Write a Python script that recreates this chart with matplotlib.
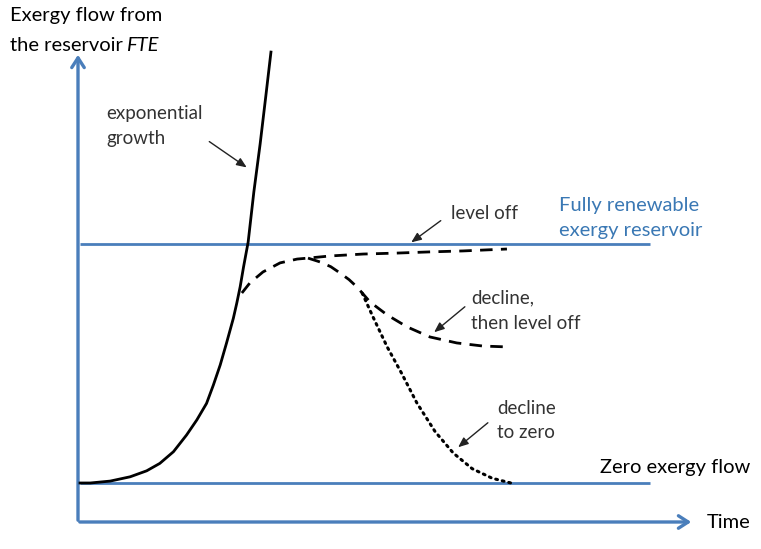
import matplotlib
matplotlib.use("Agg")
import matplotlib.pyplot as plt

# ---- data (time in arbitrary units, exergy flow normalised: 0 = zero flow, 1 = fully renewable) ----
exp_t = [0, 0.18, 0.53, 0.88, 1.17, 1.40, 1.64, 1.87, 2.05, 2.22, 2.34, 2.46, 2.57,
         2.69, 2.75, 2.81, 2.87, 2.95, 3.05, 3.16, 3.26, 3.35]
exp_e = [0, 0.0, 0.008, 0.026, 0.051, 0.082, 0.131, 0.201, 0.264, 0.333, 0.410, 0.494,
         0.585, 0.689, 0.752, 0.821, 0.905, 1.008, 1.218, 1.418, 1.619, 1.803]

rise_t = [2.84, 2.98, 3.21, 3.51, 3.81, 4.00]
rise_e = [0.795, 0.837, 0.883, 0.921, 0.937, 0.941]

level_t = [4.00, 4.39, 4.97, 5.56, 6.14, 6.72, 7.49]
level_e = [0.941, 0.950, 0.958, 0.962, 0.967, 0.971, 0.979]

decl_t = [4.00, 4.21, 4.40, 4.56, 4.72, 4.86, 5.09, 5.39, 5.74, 6.14, 6.61, 7.07, 7.54]
decl_e = [0.941, 0.925, 0.905, 0.879, 0.851, 0.820, 0.757, 0.703, 0.653, 0.611, 0.586, 0.573, 0.569]

zero_t = [4.95, 5.14, 5.39, 5.64, 5.91, 6.23, 6.55, 6.88, 7.23, 7.56]
zero_e = [0.795, 0.695, 0.569, 0.460, 0.335, 0.215, 0.125, 0.060, 0.020, 0.0]

reservoir_levels = [0, 1]          # zero exergy flow, fully renewable reservoir
level_span = [0, 10]

BLUE = "#4a7ebb"
BLUE_TXT = "#3a78b4"
FONT = "Lato"

fig = plt.figure(figsize=(7.61, 5.49), dpi=100)
ax = fig.add_axes([0, 0, 1, 1])
# pixel layout: t = (px-80)/57, E = (483-py)/239
ax.set_xlim(-80 / 57, 681 / 57)
ax.set_ylim(-66 / 239, 483 / 239)
ax.axis("off")

def P(x, y):
    return ((x - 80) / 57, (483 - y) / 239)

# axes arrows
ax.annotate("", xy=P(78, 52), xytext=P(78, 523),
            arrowprops=dict(arrowstyle="->,head_length=0.7,head_width=0.45", color=BLUE, lw=2.4))
ax.annotate("", xy=P(694, 522), xytext=P(77, 522),
            arrowprops=dict(arrowstyle="->,head_length=0.7,head_width=0.45", color=BLUE, lw=2.4))

# reference levels
for lv in reservoir_levels:
    ax.plot(level_span, [lv, lv], color=BLUE, lw=2.0, solid_capstyle="butt", zorder=2)

# curves
ax.plot(exp_t, exp_e, color="black", lw=2.0, zorder=3)
ax.plot(rise_t + level_t[1:], rise_e + level_e[1:], color="black", lw=2.0,
        dashes=(4.5, 3), zorder=3)
ax.plot(decl_t, decl_e, color="black", lw=2.0, dashes=(4.5, 3), zorder=3)
ax.plot(zero_t, zero_e, color="black", lw=2.2, linestyle=(0, (0.6, 1.6)),
        dash_capstyle="round", zorder=3)

# text
big = dict(fontfamily=FONT, fontsize=14.5, color="black", ha="left", va="center")
tk = dict(fontfamily=FONT, fontsize=13.5, color="#333333", ha="left", va="center")
ax.text(*P(10, 15), "Exergy flow from", **big)
ax.text(*P(10, 45), "the reservoir", **big)
ax.text(*P(126, 45), "FTE", style="italic", **big)
ax.text(*P(707, 522), "Time", **big)
ax.text(*P(600, 468), "Zero exergy flow", **big)
ax.text(*P(559, 205), "Fully renewable", **{**big, "color": BLUE_TXT})
ax.text(*P(559, 230), "exergy reservoir", **{**big, "color": BLUE_TXT})

ax.text(*P(106, 113), "exponential", **tk)
ax.text(*P(106, 138), "growth", **tk)
ax.text(*P(451, 213), "level off", **tk)
ax.text(*P(471, 298), "decline,", **tk)
ax.text(*P(471, 323), "then level off", **tk)
ax.text(*P(497, 408), "decline", **tk)
ax.text(*P(497, 433), "to zero", **tk)

ap = dict(arrowstyle="-|>,head_length=0.6,head_width=0.25", color="#222222", lw=1.0)
ax.annotate("", xy=P(249, 169), xytext=P(207, 140), arrowprops=ap)
ax.annotate("", xy=P(409, 244), xytext=P(443, 219), arrowprops=ap)
ax.annotate("", xy=P(432, 334), xytext=P(467, 305), arrowprops=ap)
ax.annotate("", xy=P(456, 449), xytext=P(490, 421), arrowprops=ap)

fig.savefig("out.png", dpi=100, facecolor="white")
